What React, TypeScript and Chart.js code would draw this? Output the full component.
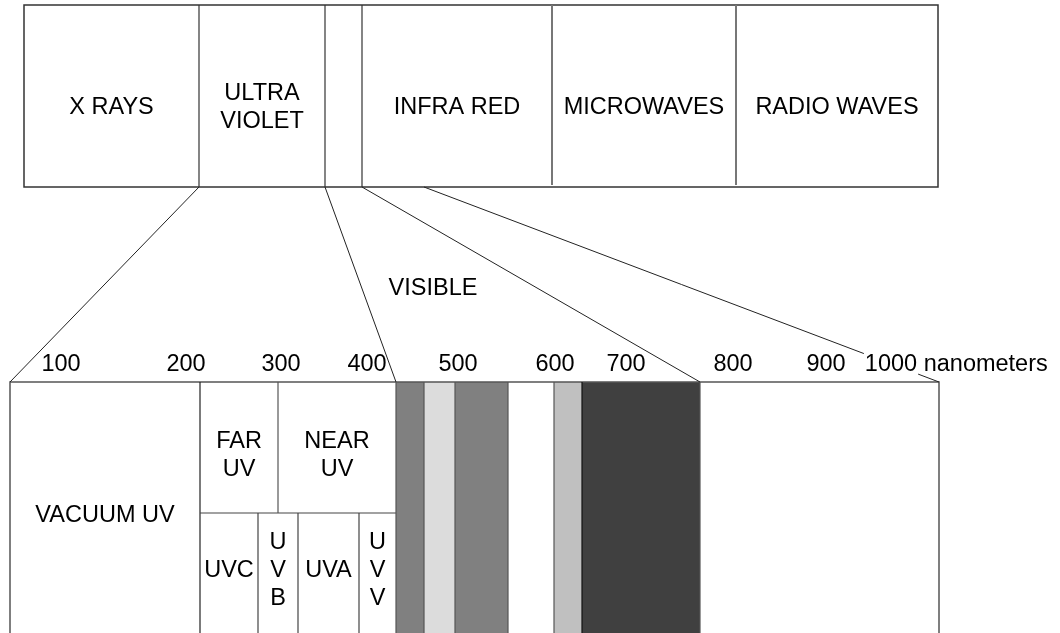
import React, { useEffect, useRef } from 'react';
import { Chart, registerables } from 'chart.js';

Chart.register(...registerables);

// Upper strip: the whole spectrum (x in diagram units)
const spectrumNames = ['X RAYS', 'ULTRA\nVIOLET', '', 'INFRA RED', 'MICROWAVES', 'RADIO WAVES'];
const spectrumEdges = [24, 199, 325, 362, 552, 736, 938];

// Lower strip: zoom on ultraviolet, visible and near infrared
const vacuumNames = ['VACUUM UV'];
const vacuumEdges = [10, 200];
const uvUpperNames = ['FAR\nUV', 'NEAR\nUV'];
const uvUpperEdges = [200, 278, 396];
const uvLowerNames = ['UVC', 'U\nV\nB', 'UVA', 'U\nV\nV'];
const uvLowerEdges = [200, 258, 298, 359, 396];
const visibleEdges = [396, 424, 455, 508, 554, 582, 700];
const visibleShades = ['#808080', '#dcdcdc', '#808080', '#ffffff', '#c0c0c0', '#404040'];
const infraredEdges = [700, 939];

// nanometer tick labels above the lower strip
const tickLabels = ['100', '200', '300', '400', '500', '600', '700', '800', '900', '1000'];
const tickPositions = [61, 186, 281, 367, 458, 555, 626, 733, 826, 891];
const unitLabel = 'nanometers';
const visibleLabel = 'VISIBLE';

// zoom lines: from the upper strip's bottom edge to the lower strip's top edge
const zoomFrom = [199, 325, 362, 424];
const zoomTo = [10, 396, 700, 939];

const FONT = '23.5px "Liberation Sans", Arial, Helvetica, sans-serif';

const diagramPlugin = {
  id: 'spectrumDiagram',
  beforeDatasetsDraw(chart: any) {
    const { ctx } = chart;
    const X = (v: number) => chart.scales.x.getPixelForValue(v);
    const Y = (v: number) => chart.scales.y.getPixelForValue(v);
    const line = (x1: number, y1: number, x2: number, y2: number, color: string, w: number) => {
      ctx.beginPath();
      ctx.strokeStyle = color;
      ctx.lineWidth = w;
      ctx.moveTo(X(x1), Y(y1));
      ctx.lineTo(X(x2), Y(y2));
      ctx.stroke();
    };
    ctx.save();

    // upper strip
    const top = 5, bottom = 187;
    const first = spectrumEdges[0];
    const last = spectrumEdges[spectrumEdges.length - 1];
    ctx.strokeStyle = '#333';
    ctx.lineWidth = 1.5;
    ctx.strokeRect(X(first), Y(top), X(last) - X(first), Y(bottom) - Y(top));
    spectrumEdges.slice(1, -1).forEach((e, i) => {
      const grey = i >= 3;
      line(e, top, e, grey ? bottom - 2 : bottom, grey ? '#777' : '#333', grey ? 2 : 1.2);
    });

    // lower strip
    const sTop = 382, sMid = 513, sBot = 645;
    visibleShades.forEach((c, i) => {
      ctx.fillStyle = c;
      ctx.fillRect(X(visibleEdges[i]), Y(sTop), X(visibleEdges[i + 1]) - X(visibleEdges[i]), Y(sBot) - Y(sTop));
    });
    const left = vacuumEdges[0];
    const right = infraredEdges[1];
    ctx.beginPath();
    ctx.strokeStyle = '#555';
    ctx.lineWidth = 1.5;
    ctx.moveTo(X(left), Y(sBot));
    ctx.lineTo(X(left), Y(sTop));
    ctx.lineTo(X(right), Y(sTop));
    ctx.lineTo(X(right), Y(sBot));
    ctx.stroke();
    line(vacuumEdges[1], sTop, vacuumEdges[1], sBot, '#222', 1.2);
    line(uvUpperEdges[0], sMid, uvUpperEdges[2], sMid, '#444', 1.2);
    uvUpperEdges.slice(1, -1).forEach((e) => line(e, sTop, e, sMid, '#555', 1.2));
    uvLowerEdges.slice(1, -1).forEach((e) => line(e, sMid, e, sBot, '#444', 1.2));
    visibleEdges.forEach((e, i) => line(e, sTop, e, sBot, i === 5 ? '#111' : '#555', 1.2));
    ctx.restore();
  },
  afterDatasetsDraw(chart: any) {
    const { ctx } = chart;
    const X = (v: number) => chart.scales.x.getPixelForValue(v);
    const Y = (v: number) => chart.scales.y.getPixelForValue(v);
    ctx.save();
    ctx.font = FONT;
    ctx.fillStyle = '#000';
    ctx.textAlign = 'center';
    ctx.textBaseline = 'middle';
    const text = (t: string, x: number, y: number, lh = 28) => {
      const rows = t.split('\n');
      rows.forEach((r, i) => {
        ctx.fillText(r, X(x), Y(y + 1 + (i - (rows.length - 1) / 2) * lh));
      });
    };
    const cells = (names: string[], edges: number[], y: number) =>
      names.forEach((n, i) => n && text(n, (edges[i] + edges[i + 1]) / 2, y));

    cells(spectrumNames, spectrumEdges, 107);
    cells(vacuumNames, vacuumEdges, 515);
    cells(uvUpperNames, uvUpperEdges, 455);
    cells(uvLowerNames, uvLowerEdges, 570);
    text(visibleLabel, 433, 288);

    const ty = 365;
    tickLabels.forEach((t, i) => {
      const x = tickPositions[i];
      if (i === tickLabels.length - 1) {
        const w = ctx.measureText(t).width;
        ctx.fillStyle = '#fff';
        ctx.fillRect(X(x) - w / 2 - 1, Y(352), w + 2, Y(377) - Y(352));
        ctx.fillStyle = '#000';
        ctx.textAlign = 'left';
        ctx.fillText(' ' + unitLabel, X(x) + w / 2, Y(ty));
        ctx.textAlign = 'center';
      }
      ctx.fillText(t, X(x), Y(ty));
    });
    ctx.restore();
  },
};

const App: React.FC = () => {
  const canvasRef = useRef<HTMLCanvasElement>(null);

  useEffect(() => {
    document.body.style.margin = '0';
    if (!canvasRef.current) return;
    const chart = new Chart(canvasRef.current, {
      type: 'scatter',
      data: {
        datasets: zoomFrom.map((from, i) => ({
          data: [
            { x: from, y: 187 },
            { x: zoomTo[i], y: 382 },
          ],
          showLine: true,
          borderColor: '#222',
          borderWidth: 1,
          pointRadius: 0,
        })),
      },
      options: {
        animation: false,
        responsive: true,
        maintainAspectRatio: false,
        layout: { padding: 0 },
        scales: {
          x: { type: 'linear', min: 0, max: 1060, display: false },
          y: { type: 'linear', min: 0, max: 633, reverse: true, display: false },
        },
        plugins: {
          legend: { display: false },
          tooltip: { enabled: false },
        },
      },
      plugins: [diagramPlugin],
    });
    return () => chart.destroy();
  }, []);

  return (
    <div style={{ width: 1060, height: 633, background: '#fff' }}>
      <canvas ref={canvasRef}></canvas>
    </div>
  );
};

export default App;
